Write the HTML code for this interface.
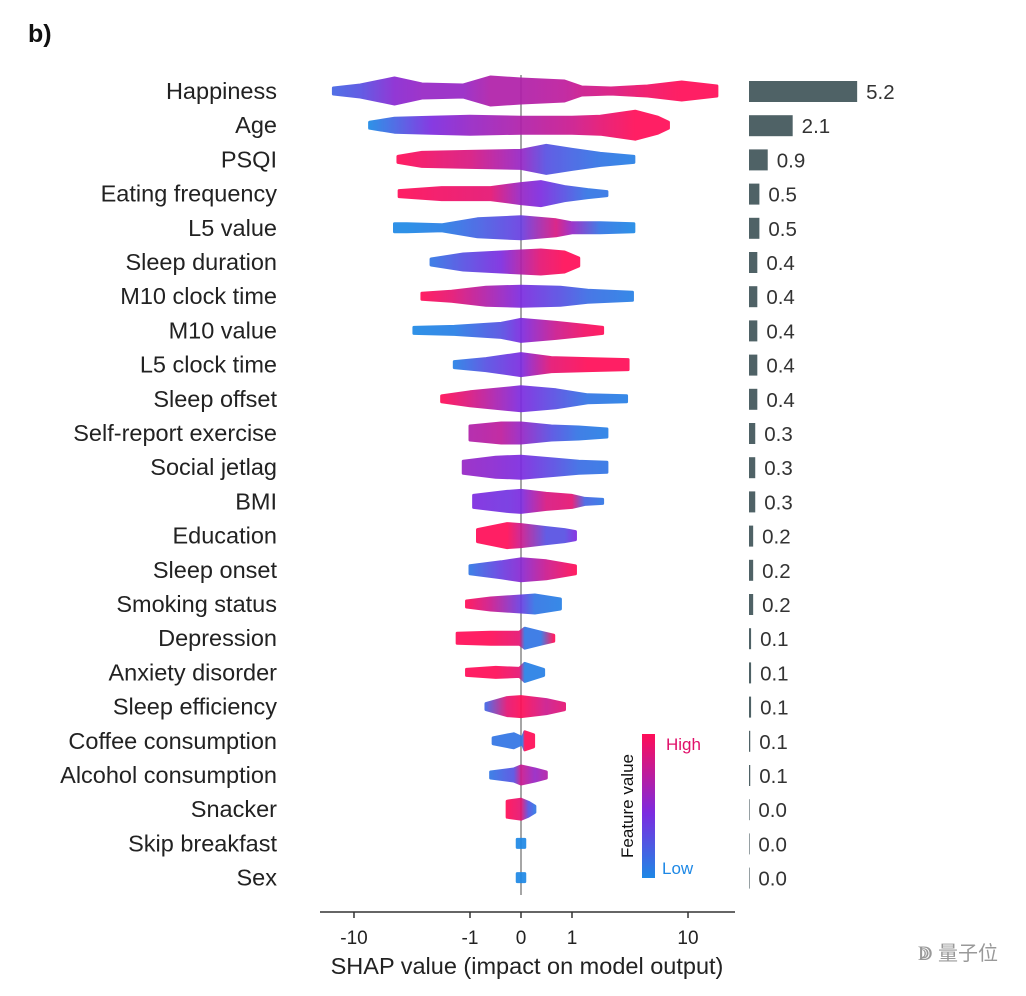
<!DOCTYPE html>
<html><head><meta charset="utf-8">
<style>
body{margin:0;background:#fff;}
svg{display:block;font-family:"Liberation Sans","Noto Sans CJK SC",sans-serif;}
</style></head>
<body>
<svg id="chart" width="1026" height="996" viewBox="0 0 1026 996">
<defs>
<linearGradient id="cbar" x1="0" y1="0" x2="0" y2="1">
<stop offset="0" stop-color="#ff0d57"/><stop offset="0.55" stop-color="#7c2be0"/><stop offset="1" stop-color="#1e88e5"/>
</linearGradient>
</defs>
<text x="28" y="42" font-size="25" font-weight="bold" fill="#111">b)</text>
<g id="swarms"></g>
<g id="labels"></g>
<g id="bars"></g>
<g id="xaxis"></g>
<g>
<rect x="642" y="734" width="13" height="144" fill="url(#cbar)"/>
<text x="666" y="750" font-size="17" fill="#e0106a">High</text>
<text x="662" y="874" font-size="17" fill="#1e88e5">Low</text>
<text transform="translate(633,806) rotate(-90)" text-anchor="middle" font-size="17" fill="#111">Feature value</text>
</g>
<text x="527" y="974" text-anchor="middle" font-size="23.5" fill="#222">SHAP value (impact on model output)</text>
<text x="918" y="960" font-size="20" fill="#999">ↇ 量子位</text>
</svg>
<script>
const features=["Happiness","Age","PSQI","Eating frequency","L5 value","Sleep duration","M10 clock time","M10 value","L5 clock time","Sleep offset","Self-report exercise","Social jetlag","BMI","Education","Sleep onset","Smoking status","Depression","Anxiety disorder","Sleep efficiency","Coffee consumption","Alcohol consumption","Snacker","Skip breakfast","Sex"];
const importance=[5.2,2.1,0.9,0.5,0.5,0.4,0.4,0.4,0.4,0.4,0.3,0.3,0.3,0.2,0.2,0.2,0.1,0.1,0.1,0.06,0.06,0.02,0.02,0.02];
const importanceLabels=["5.2","2.1","0.9","0.5","0.5","0.4","0.4","0.4","0.4","0.4","0.3","0.3","0.3","0.2","0.2","0.2","0.1","0.1","0.1","0.1","0.1","0.0","0.0","0.0"];
const tickValues=[-10,-1,0,1,10];
const tickLabels=["-10","-1","0","1","10"];
// each segment: [shap value, half-thickness, feature colour 0=low..1=high]
const swarm=[
[[-14,3,0.2],[-9,6,0.3],[-5,13,0.55],[-3,7,0.6],[-1.2,6,0.6],[-0.5,14,0.7],[0,12,0.7],[0.8,10,0.75],[1.3,4,0.8],[2.5,3,0.85],[5,5,0.95],[9,9,1],[16,5,1]],
[[-7.7,3,0],[-5,7,0.2],[-2.5,8,0.5],[-1,9,0.6],[0,8,0.7],[1,8,0.8],[2,9,0.9],[4,14,1],[6,8,1],[7.2,3,1]],
[[-4.7,3,1],[-3,7,0.95],[-1,8,0.85],[0,9,0.6],[0.4,14,0.3],[1,10,0.2],[2,6,0.1],[3.9,3,0.05]],
[[-4.6,3,1],[-2,6,0.95],[-0.5,6,0.9],[0,10,0.6],[0.3,12,0.5],[0.8,7,0.3],[1.5,4,0.1],[2.3,2,0.1]],
[[-5,4,0],[-4,4,0],[-2,3,0.05],[-0.8,9,0.2],[0,11,0.4],[0.6,8,0.85],[1,5,0.6],[2,5,0.1],[3.9,4,0]],
[[-2.5,3,0.1],[-1.2,8,0.3],[-0.3,10,0.5],[0.3,12,0.9],[0.8,10,1],[1.2,4,1]],
[[-3,3,1],[-1.6,5,0.9],[-0.6,9,0.7],[0,10,0.5],[0.7,9,0.3],[1.5,6,0.15],[3.8,4,0.05]],
[[-3.5,3,0],[-1.5,4,0.05],[-0.3,7,0.3],[0,11,0.5],[0.6,8,0.8],[1.4,5,0.95],[2.1,3,1]],
[[-1.5,3,0.05],[-0.6,6,0.3],[0,11,0.5],[0.5,7,0.9],[1.5,6,1],[3.5,5,1]],
[[-2,3,1],[-1,7,0.85],[0,12,0.5],[0.6,9,0.3],[1.5,4,0.1],[3.4,3,0.05]],
[[-1,7,0.7],[-0.3,10,0.75],[0,10,0.6],[0.5,7,0.3],[1.2,6,0.1],[2.3,4,0.05]],
[[-1.2,6,0.6],[-0.4,10,0.55],[0,11,0.5],[0.6,8,0.3],[1.2,6,0.15],[2.3,5,0.1]],
[[-0.9,6,0.5],[-0.2,10,0.45],[0,11,0.5],[0.4,8,0.85],[1,6,0.9],[1.4,3,0.2],[2.1,2,0.1]],
[[-0.8,6,1],[-0.2,12,1],[0,11,0.8],[0.4,8,0.3],[0.8,6,0.3],[1.1,4,0.5]],
[[-1,4,0.1],[-0.3,8,0.4],[0,11,0.55],[0.4,9,0.8],[1.1,4,1]],
[[-1.1,3,1],[-0.5,6,0.8],[0,8,0.4],[0.2,9,0.1],[0.7,5,0.05]],
[[-1.4,5,1],[-0.5,6,1],[-0.02,6,0.9],[0.05,10,0.1],[0.3,6,0.1],[0.55,3,1]],
[[-1.1,3,1],[-0.4,5,1],[-0.02,4,0.9],[0.05,9,0.05],[0.35,3,0.05]],
[[-0.6,3,0.2],[-0.2,9,0.9],[0,10,1],[0.4,7,0.8],[0.8,3,0.9]],
[[-0.45,3,0.1],[-0.1,7,0.1],[0.02,3,0.1],[0.05,9,1],[0.18,6,1]],
[[-0.5,3,0.1],[-0.1,6,0.3],[0,9,0.8],[0.2,6,0.6],[0.4,3,0.7]],
[[-0.2,8,1],[0,10,0.9],[0.1,7,0.3],[0.2,3,0.1]],
[[-0.05,4,0],[0.05,4,0]],
[[-0.05,4,0],[0.05,4,0]]
];
const NS="http://www.w3.org/2000/svg";
const X0=521,K=151,C=0.85;
function xs(v){const s=v<0?-1:1;return X0+s*K*Math.log10(1+Math.abs(v)/C);}
function ys(i){return 91+i*34.2;}
function bx(v){return 749+v*20.8;}
function col(t){
  const a=[30,136,229],m=[124,43,224],b=[255,13,87];
  let p,q,u;if(t<0.5){p=a;q=m;u=t*2;}else{p=m;q=b;u=(t-0.5)*2;}
  return "rgb("+p.map((c,k)=>Math.round(c+(q[k]-c)*u)).join(",")+")";
}
function mk(tag,attrs,parent){const e=document.createElementNS(NS,tag);for(const k in attrs)e.setAttribute(k,attrs[k]);parent.appendChild(e);return e;}
const defs=document.querySelector("defs");
const gS=document.getElementById("swarms"),gL=document.getElementById("labels"),gB=document.getElementById("bars"),gX=document.getElementById("xaxis");
const zl=mk("line",{x1:xs(0),x2:xs(0),y1:75,y2:895,stroke:"#888","stroke-width":1.5},gS);


features.forEach((f,i)=>{
  const y=ys(i),segs=swarm[i];
  const gid="g"+i;
  const x1=xs(segs[0][0]),x2=xs(segs[segs.length-1][0]);
  const lg=mk("linearGradient",{id:gid,gradientUnits:"userSpaceOnUse",x1:x1,x2:x2,y1:0,y2:0},defs);
  segs.forEach(s=>{mk("stop",{offset:(x2>x1?(xs(s[0])-x1)/(x2-x1):0),"stop-color":col(s[2])},lg);});
  let d="M"+x1+","+y;
  segs.forEach(s=>{d+=" L"+xs(s[0])+","+(y-s[1]);});
  for(let k=segs.length-1;k>=0;k--){d+=" L"+xs(segs[k][0])+","+(y+segs[k][1]);}
  d+=" Z";
  const p=mk("path",{d:d,fill:"url(#"+gid+")",stroke:"url(#"+gid+")","stroke-width":3,"stroke-linejoin":"round",opacity:0.92},gS);
  
  
  const t=mk("text",{x:277,y:y+8,"text-anchor":"end","font-size":23.5,fill:"#222"},gL);
  t.textContent=f;
  
  
  const w=bx(importance[i])-749;
  const r=mk("rect",{x:749,y:y-10,width:Math.max(w,0.6),height:21,fill:"#4f6266"},gB);
  
  
  const vt=mk("text",{x:Math.max(749+w+9,758),y:y+8,"font-size":20.5,fill:"#333"},gB);
  vt.textContent=importanceLabels[i];
  
  
});
const ax=mk("line",{x1:320,x2:735,y1:912,y2:912,stroke:"#333","stroke-width":1.5},gX);


tickValues.forEach((v,i)=>{
  const x=xs(v);
  const tl=mk("line",{x1:x,x2:x,y1:912,y2:918,stroke:"#333","stroke-width":1.5},gX);
  
  
  const tt=mk("text",{x:x,y:944,"text-anchor":"middle","font-size":19,fill:"#222"},gX);
  tt.textContent=tickLabels[i];
  
  
});
</script>
</body></html>
